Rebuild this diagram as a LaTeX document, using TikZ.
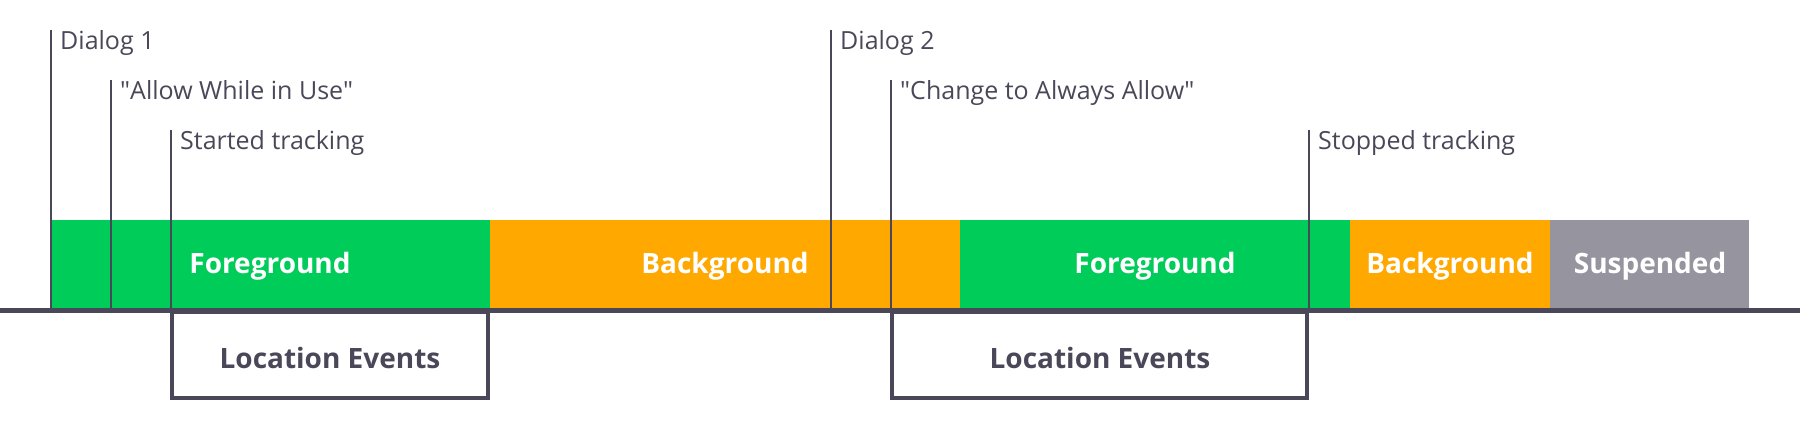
\documentclass[tikz,border=0pt]{standalone}
\usepackage{fontspec}
\setmainfont{Open Sans}
\definecolor{ink}{RGB}{74,72,88}
\definecolor{fgc}{RGB}{0,204,90}
\definecolor{bgc}{RGB}{255,168,0}
\definecolor{spc}{RGB}{150,148,158}
\begin{document}
\begin{tikzpicture}[x=1pt,y=-1pt,
  markline/.style={ink,line width=2.5pt},
  marktext/.style={anchor=base west,inner sep=0,text=ink,font=\fontsize{25}{29}\selectfont},
  statetext/.style={anchor=base,inner sep=0,text=white,font=\fontsize{28}{32}\selectfont\bfseries},
  eventbox/.style={draw=ink,line width=3.5pt,anchor=north west,inner sep=0},
  eventtext/.style={anchor=base,inner sep=0,text=ink,font=\fontsize{28}{32}\selectfont\bfseries}]
\useasboundingbox (0,0) rectangle (1800,430);
% app states
\fill[fgc] (50,220) rectangle (490,309);\fill[bgc] (490,220) rectangle (960,309);
\fill[fgc] (960,220) rectangle (1350,309);\fill[bgc] (1350,220) rectangle (1550,309);
\fill[spc] (1550,220) rectangle (1749,309);
\node[statetext] (fg1) at (270,274){Foreground};\node[statetext] (bg1) at (725,274){Background};
\node[statetext] (fg2) at (1155,274){Foreground};\node[statetext] (bg2) at (1450,274){Background};
\node[statetext] (sp) at (1650,274){Suspended};
% markers
\foreach \n/\x/\y in {d1/51/30,al/111/80,st/171/130,d2/831/30,ch/891/80,sp/1309/130}{
  \coordinate (\n top) at (\x,\y);\coordinate (\n bot) at (\x,309);
  \draw[markline] (\n top)--(\n bot);}
\node[marktext] (t1) at (60,50){Dialog 1};
\node[marktext] (t2) at (120,100){\textquotedbl Allow While in Use\textquotedbl};
\node[marktext] (t3) at (180,150){Started tracking};
\node[marktext] (t4) at (840,50){Dialog 2};
\node[marktext] (t5) at (900,100){\textquotedbl Change to Always Allow\textquotedbl};
\node[marktext] (t6) at (1318,150){Stopped tracking};
% events
\node[eventbox,minimum width=316pt,minimum height=85pt] (ev1) at (170,311){};
\node[eventbox,minimum width=415pt,minimum height=85pt] (ev2) at (890,311){};
\node[eventtext] (e1) at (330,369){Location Events};
\node[eventtext] (e2) at (1100,369){Location Events};
\coordinate (axl) at (0,310.5);\coordinate (axr) at (1800,310.5);
\draw[ink,line width=5pt] (axl)--(axr);
\end{tikzpicture}
\end{document}
